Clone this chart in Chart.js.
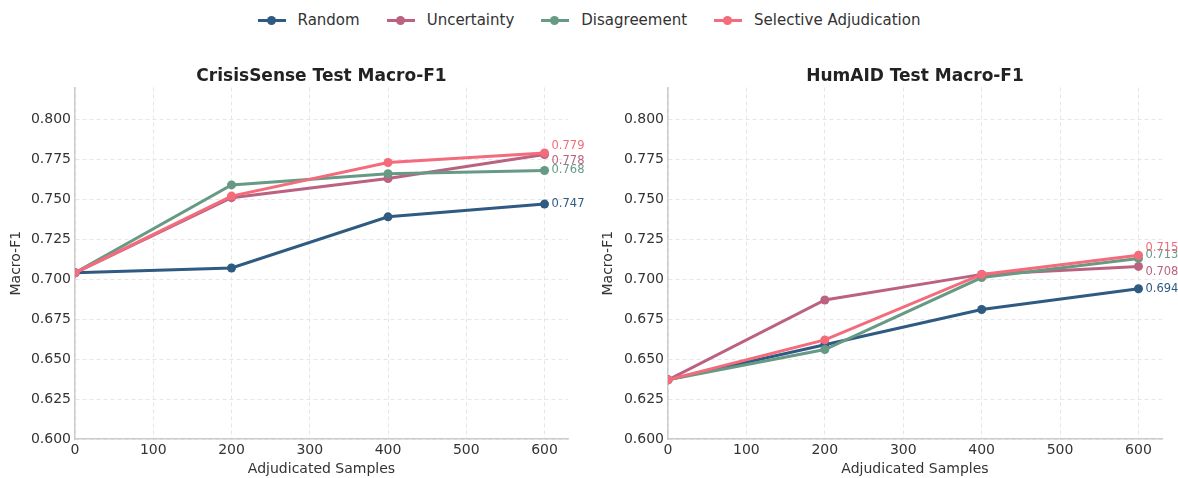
<!DOCTYPE html>
<html>
<head>
<meta charset="utf-8">
<script src="https://cdn.jsdelivr.net/npm/chart.js@4.4.0/dist/chart.umd.min.js"></script>
<style>
  body { margin: 0; width: 1178px; height: 478px; overflow: hidden; background: #fff; position: relative; font-family: "DejaVu Sans", sans-serif; }
  #legend { position: absolute; top: 10px; left: 0; width: 1178px; display: flex; justify-content: center; gap: 27px; font-size: 15px; color: #333; }
  .item { display: flex; align-items: center; height: 20px; }
  .mark { position: relative; width: 28px; height: 3px; margin-right: 12px; }
  .mark i { position: absolute; left: 9px; top: -3px; width: 9px; height: 9px; border-radius: 50%; background: inherit; }
  canvas { position: absolute; top: 0; }
  #left { left: 0; }
  #right { left: 589px; }
</style>
</head>
<body>
<div id="legend"></div>
<canvas id="left" width="643" height="478"></canvas>
<canvas id="right" width="652" height="478"></canvas>
<script>
// x values (adjudicated samples)
const samples = [0, 200, 400, 600]
const methods = ["Random", "Uncertainty", "Disagreement", "Selective Adjudication"]
const colors = ["#2f5a82", "#bb6280", "#679a84", "#f46b7b"]

// CrisisSense macro-F1
const crisisRandom = [0.704, 0.707, 0.739, 0.747]
const crisisUncertainty = [0.704, 0.751, 0.763, 0.778]
const crisisDisagreement = [0.704, 0.759, 0.766, 0.768]
const crisisSelective = [0.704, 0.752, 0.773, 0.779]

// HumAID macro-F1
const humaidRandom = [0.637, 0.659, 0.681, 0.694]
const humaidUncertainty = [0.637, 0.687, 0.703, 0.708]
const humaidDisagreement = [0.637, 0.656, 0.701, 0.713]
const humaidSelective = [0.637, 0.662, 0.703, 0.715]

const yTicks = [0.6, 0.625, 0.65, 0.675, 0.7, 0.725, 0.75, 0.775, 0.8]

// legend
const legend = document.getElementById("legend")
legend.innerHTML = methods
  .map(
    (m, i) => `
  <div class="item"><span class="mark" style="background:${colors[i]}"><i></i></span>${m}</div>`
  )
  .join("")

// end labels, nudged so they don't collide
const endLabels = {
  id: "endLabels",
  afterDatasetsDraw(chart, args, opts) {
    const ctx = chart.ctx
    ctx.save()
    ctx.font = "11.5px 'DejaVu Sans'"
    ctx.textBaseline = "middle"
    chart.data.datasets.forEach((ds, i) => {
      const pts = chart.getDatasetMeta(i).data
      const p = pts[pts.length - 1]
      ctx.fillStyle = ds.borderColor
      ctx.fillText(ds.data[ds.data.length - 1].y.toFixed(3), p.x + 7, p.y + opts.dy[i])
    })
    ctx.restore()
  },
}

function makeChart(id, title, series, yPad, titlePad, rightW, dy) {
  return new Chart(document.getElementById(id), {
    type: "line",
    data: {
      datasets: series.map((vals, i) => ({
        label: methods[i],
        data: samples.map((x, j) => ({ x: x, y: vals[j] })),
        borderColor: colors[i],
        backgroundColor: colors[i],
        borderWidth: 3,
        pointRadius: 4.5,
        pointBorderWidth: 0,
        order: 4 - i,
      })),
    },
    options: {
      responsive: false,
      animation: false,
      plugins: {
        legend: { display: false },
        tooltip: { enabled: false },
        title: {
          display: true,
          text: title,
          color: "#222",
          font: { family: "DejaVu Sans", size: 17, weight: "bold" },
          padding: { top: 66, bottom: 1 },
        },
        endLabels: { dy: dy },
      },
      scales: {
        x: {
          type: "linear",
          min: 0,
          max: 630,
          afterFit: (s) => { s.height = 39 },
          ticks: {
            stepSize: 100,
            includeBounds: false,
            padding: 3,
            color: "#333",
            font: { family: "DejaVu Sans", size: 14 },
          },
          grid: { color: "#e6e6e6", drawTicks: false },
          border: { color: "#cccccc", width: 1.5, dash: [4, 3] },
          title: {
            display: true,
            text: "Adjudicated Samples",
            color: "#333",
            font: { family: "DejaVu Sans", size: 14 },
            padding: { top: 0, bottom: 0 },
          },
        },
        y: {
          min: 0.6,
          max: 0.82,
          afterFit: (s) => { s.width = yPad },
          afterBuildTicks: (s) => { s.ticks = yTicks.map((v) => ({ value: v })) },
          ticks: {
            padding: 4,
            color: "#333",
            font: { family: "DejaVu Sans", size: 14 },
            callback: (v) => v.toFixed(3),
          },
          grid: { color: "#e6e6e6", drawTicks: false },
          border: { color: "#cccccc", width: 1.5, dash: [4, 3] },
          title: {
            display: true,
            text: "Macro-F1",
            color: "#333",
            font: { family: "DejaVu Sans", size: 14 },
            padding: { top: titlePad, bottom: 0 },
          },
        },
        // empty axis that only reserves room on the right
        y2: {
          position: "right",
          afterFit: (s) => { s.width = rightW },
          ticks: { display: false },
          grid: { display: false },
          border: { display: false },
        },
      },
    },
    plugins: [endLabels],
  })
}

makeChart(
  "left",
  "CrisisSense Test Macro-F1",
  [crisisRandom, crisisUncertainty, crisisDisagreement, crisisSelective],
  75, 8, 75,
  [0, 6, 0, -7]
)
makeChart(
  "right",
  "HumAID Test Macro-F1",
  [humaidRandom, humaidUncertainty, humaidDisagreement, humaidSelective],
  79, 11, 79,
  [0, 6, -3, -7]
)
</script>
</body>
</html>
